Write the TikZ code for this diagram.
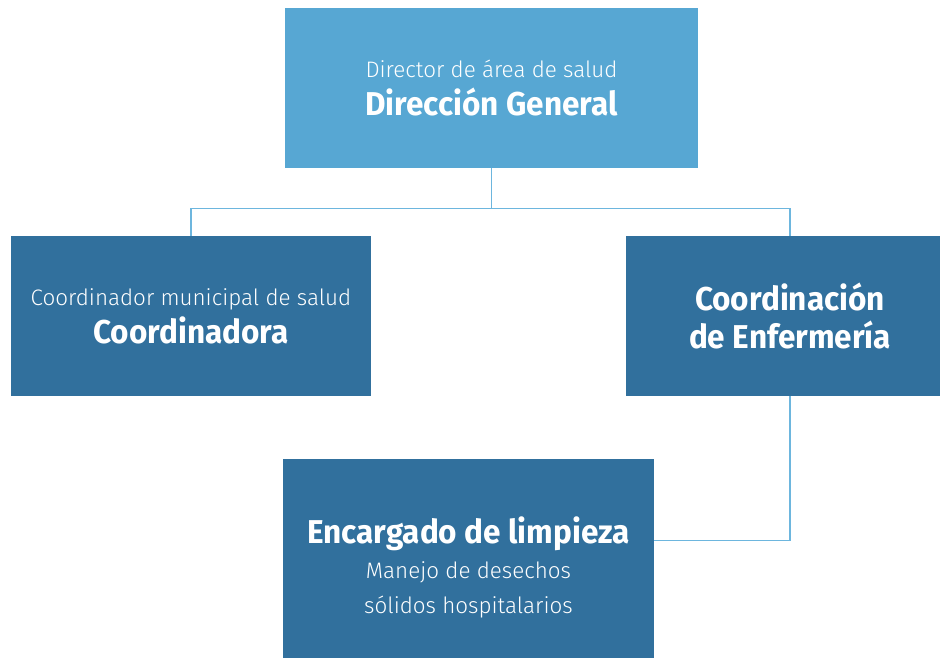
\documentclass[tikz,border=0pt]{standalone}
\usepackage{fontspec}
\setmainfont{Fira Sans}
\newfontfamily\ltfont{Fira Sans Light}
\newfontfamily\hdfont[FakeStretch=0.955]{Fira Sans Bold}
\usetikzlibrary{positioning}

\definecolor{lightbox}{HTML}{57A7D3}
\definecolor{darkbox}{HTML}{31709D}
\definecolor{linkblue}{HTML}{6DB6DE}

\newcommand{\lt}[1]{{\ltfont\fontsize{22.4}{38}\selectfont #1}}
\newcommand{\hd}[1]{{\hdfont\fontsize{33}{38}\selectfont #1}}

\begin{document}
\begin{tikzpicture}[x=1pt, y=-1pt]
\tikzset{
  box/.style={rectangle, fill=darkbox, text=white, align=center,
    inner sep=0pt, font=\fontsize{22.4}{38}\selectfont},
  topbox/.style={box, fill=lightbox},
  txt/.style={text=white, align=center, inner sep=0pt,
    font=\fontsize{22.4}{35}\selectfont},
  link/.style={draw=linkblue, line width=1.2pt}
}
\useasboundingbox (0,0) rectangle (940,660);

% boxes
\node[topbox, minimum width=413pt, minimum height=160pt] (dir) at (491.5,88)
  {\lt{Director de área de salud}\\ \hd{Dirección General}};
\node[box, minimum width=360pt, minimum height=160pt] (coord) at (191,316)
  {\lt{Coordinador municipal de salud}\\ \hd{Coordinadora}};
\node[box, minimum width=328pt, minimum height=160pt] (enf) at (790,316)
  {\hd{Coordinación}\\ \hd{de Enfermería}};
\node[box, minimum width=371pt, minimum height=199pt] (limp) at (468.5,558.5) {};
\node[txt] (limptxt) at ([yshift=-9pt]limp.center)
  {{\hdfont\fontsize{33}{35}\selectfont Encargado de limpieza}\\
   {\ltfont Manejo de desechos}\\ {\ltfont sólidos hospitalarios}};

% connectors
\coordinate (split) at ([yshift=-40pt]dir.south);
\draw[link] (dir.south) -- (split) -| (coord.north);
\draw[link] (split) -| (enf.north);
\draw[link] (enf.south) |- ([yshift=18pt]limp.east);
\end{tikzpicture}
\end{document}
